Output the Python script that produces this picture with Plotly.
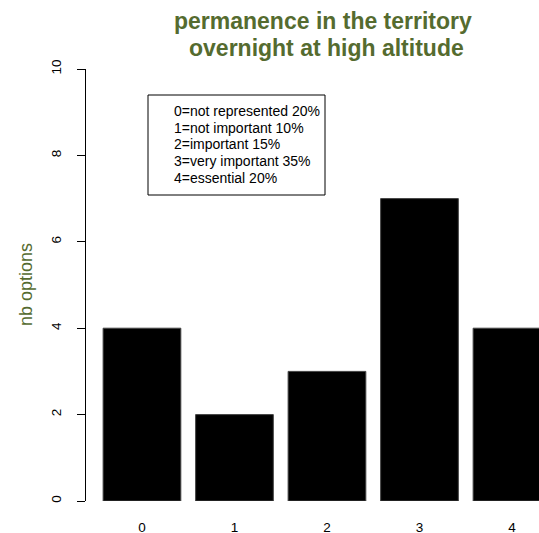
import plotly.graph_objects as go

categories = [0, 1, 2, 3, 4]
counts = [4, 2, 3, 7, 4]
y_ticks = [0, 2, 4, 6, 8, 10]
legend_lines = [
    "0=not represented 20%",
    "1=not important 10%",
    "2=important 15%",
    "3=very important 35%",
    "4=essential 20%",
]
title_lines = ["permanence in the territory", "overnight at high altitude"]
y_title = "nb options"

GREEN = "#556B2F"
FONT = "Liberation Sans, Arial, sans-serif"

W, H = 539, 533
L, R, T, B = 86, 0, 69, 32
PW, PH = W - L - R, H - T - B


def px_x(x):
    return (x - L) / PW


def px_y(y):
    return (H - B - y) / PH


fig = go.Figure()
fig.add_trace(go.Bar(
    x=categories, y=counts,
    marker=dict(color="black", line=dict(color="#444444", width=1)),
    width=0.84,
))

fig.update_layout(
    width=W, height=H,
    margin=dict(l=L, r=R, t=T, b=B, autoexpand=False),
    paper_bgcolor="white", plot_bgcolor="white",
    showlegend=False,
    font=dict(family=FONT, color="black", size=13.5),
)
fig.update_xaxes(
    range=[-0.605, 4.292], tickvals=categories, ticktext=[str(c) for c in categories],
    showline=False, showgrid=False, zeroline=False, ticks="",
    ticklabelstandoff=16, tickfont=dict(size=13.5), automargin=False,
)
fig.update_yaxes(
    range=[0, 10], tickvals=y_ticks, ticktext=[str(v) for v in y_ticks],
    showline=True, linecolor="black", linewidth=1,
    ticks="outside", ticklen=8, tickcolor="black", tickwidth=1,
    tickangle=-90, ticklabelstandoff=11, tickfont=dict(size=13.5),
    showgrid=False, zeroline=False, automargin=False,
)

# title (two lines placed separately)
for txt, cx, cy in zip(title_lines, [322.5, 326], [21, 48]):
    fig.add_annotation(
        text="<b>" + txt + "</b>", xref="paper", yref="paper",
        x=px_x(cx), y=px_y(cy), xanchor="center", yanchor="middle",
        showarrow=False, font=dict(size=23, color=GREEN, family=FONT),
    )
# y axis title
fig.add_annotation(
    text=y_title, xref="paper", yref="paper",
    x=px_x(26), y=px_y(284),
    xanchor="center", yanchor="middle", textangle=-90, showarrow=False,
    font=dict(size=18, color=GREEN, family=FONT),
)
# legend box
fig.add_shape(
    type="rect", xref="paper", yref="paper",
    x0=px_x(148), x1=px_x(325), y0=px_y(195), y1=px_y(95),
    line=dict(color="black", width=1), fillcolor="white",
)
for i, line in enumerate(legend_lines):
    fig.add_annotation(
        text=line, xref="paper", yref="paper",
        x=px_x(172), y=px_y(111 + 16.7 * i),
        xanchor="left", yanchor="middle", align="left", showarrow=False,
        font=dict(size=14, color="black", family=FONT),
    )

fig.write_html("out.html", config={"displayModeBar": False})

# remove default page margin so the figure sits at the window's top-left corner
with open("out.html", encoding="utf-8") as f:
    html = f.read()
html = html.replace("<body>", '<body style="margin:0;padding:0;overflow:hidden">', 1)
with open("out.html", "w", encoding="utf-8") as f:
    f.write(html)
